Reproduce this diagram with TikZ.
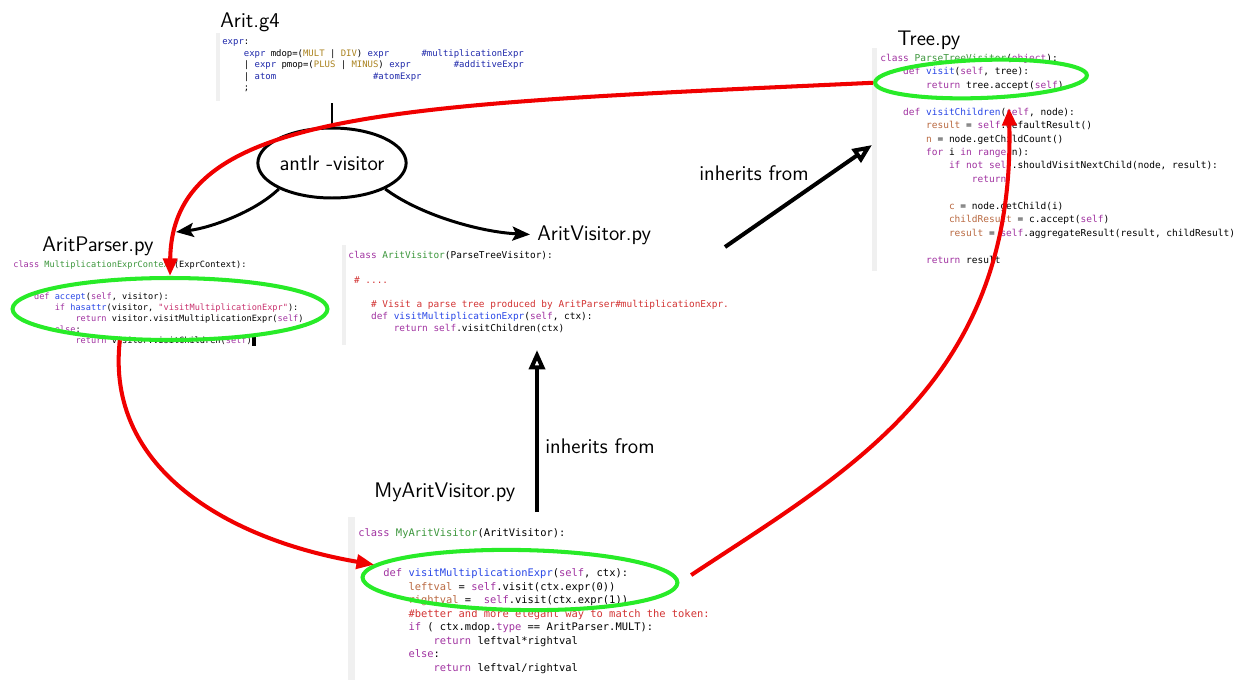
\documentclass[tikz,border=0pt]{standalone}
\usepackage{fontspec}
\setmonofont{DejaVu Sans Mono}
\usepackage{xcolor}
\usetikzlibrary{arrows.meta,shapes.geometric}

\definecolor{kwpurple}{RGB}{160,50,160}
\definecolor{clsgreen}{RGB}{60,150,60}
\definecolor{fnblue}{RGB}{40,70,230}
\definecolor{cmtred}{RGB}{210,50,50}
\definecolor{varbrown}{RGB}{185,105,65}
\definecolor{gnavy}{RGB}{30,40,170}
\definecolor{gtoken}{RGB}{170,130,30}
\definecolor{strpink}{RGB}{200,50,110}
\definecolor{hlgreen}{RGB}{40,235,40}
\definecolor{flowred}{RGB}{240,0,0}
\definecolor{stripgray}{RGB}{240,240,240}

% syntax colours of the code snippets
\newcommand{\ckw}[1]{\textcolor{kwpurple}{#1}}
\newcommand{\ccls}[1]{\textcolor{clsgreen}{#1}}
\newcommand{\cfn}[1]{\textcolor{fnblue}{#1}}
\newcommand{\ccmt}[1]{\textcolor{cmtred}{#1}}
\newcommand{\cvar}[1]{\textcolor{varbrown}{#1}}
\newcommand{\cgram}[1]{\textcolor{gnavy}{#1}}
\newcommand{\ctok}[1]{\textcolor{gtoken}{#1}}
\newcommand{\cstr}[1]{\textcolor{strpink}{#1}}
\newcommand{\cind}[1]{\hspace*{\dimexpr 0.602em*#1\relax}}

\begin{document}
\begin{tikzpicture}[x=0.02cm, y=-0.02cm,
    title/.style={anchor=base west, inner sep=0pt, font=\sffamily\fontsize{12}{14}\selectfont},
    code/.style={anchor=base west, align=left, inner sep=0pt}, % base = last line
    strip/.style={fill=stripgray},
    tool/.style={ellipse, draw, line width=1.7pt, minimum width=2.8cm, minimum height=1.4cm,
        inner sep=0pt, font=\sffamily\fontsize{12}{14}\selectfont},
    gen/.style={line width=1.7pt, -{Stealth[length=10pt,width=8pt,inset=2pt]}},
    inherit/.style={line width=2.3pt, -{Triangle[open,length=11pt,width=9pt]}},
    hl/.style={ellipse, draw=hlgreen, line width=2.3pt, inner sep=0pt},
    call/.style={color=flowred, line width=2.3pt, -{Triangle[length=10pt,width=8pt]}}]

    \useasboundingbox (0,0) rectangle (1245,680);

    % grey margins of the code snippets
    \fill[strip] (216,33) rectangle (220,101);   % Arit.g4
    \fill[strip] (872,48) rectangle (877,271);   % Tree.py
    \fill[strip] (342,245) rectangle (346,345);  % AritVisitor.py
    \fill[strip] (348,517) rectangle (355,680);  % MyAritVisitor.py

    % file names
    \node[title] (gtitle) at (220,27) {Arit.g4};
    \node[title] (ttitle) at (897,45) {Tree.py};
    \node[title] (ptitle) at (42,251) {AritParser.py};
    \node[title] (vtitle) at (537,240) {AritVisitor.py};
    \node[title] (mtitle) at (374,497) {MyAritVisitor.py};

    % Arit.g4
    \node[code, font=\ttfamily\fontsize{5.09}{6.58}\selectfont] (gcode) at (222,90.9) {%
        \cgram{expr}:\\
        \cind{4}\cgram{expr} mdop=(\ctok{MULT} | \ctok{DIV}) \cgram{expr}\cind{6}\cgram{\#multiplicationExpr}\\
        \cind{4}| \cgram{expr} pmop=(\ctok{PLUS} | \ctok{MINUS}) \cgram{expr}\cind{8}\cgram{\#additiveExpr}\\
        \cind{4}| \cgram{atom}\cind{18}\cgram{\#atomExpr}\\
        \cind{4};};

    % Tree.py
    \node[code, font=\ttfamily\fontsize{5.41}{7.65}\selectfont] (tcode) at (880,263) {%
        \ckw{class} \ccls{ParseTreeVisitor}(\ckw{object}):\\
        \cind{4}\ckw{def} \cfn{visit}(\ckw{self}, tree):\\
        \cind{8}\ckw{return} tree.accept(\ckw{self})\\
        ~\\
        \cind{4}\ckw{def} \cfn{visitChildren}(\ckw{self}, node):\\
        \cind{8}\cvar{result} = \ckw{self}.defaultResult()\\
        \cind{8}\cvar{n} = node.getChildCount()\\
        \cind{8}\ckw{for} i \ckw{in} \ckw{range}(n):\\
        \cind{12}\ckw{if} \ckw{not} \ckw{self}.shouldVisitNextChild(node, result):\\
        \cind{16}\ckw{return}\\
        ~\\
        \cind{12}\cvar{c} = node.getChild(i)\\
        \cind{12}\cvar{childResult} = c.accept(\ckw{self})\\
        \cind{12}\cvar{result} = \ckw{self}.aggregateResult(result, childResult)\\
        ~\\
        \cind{8}\ckw{return} result};

    % AritParser.py
    \node[code, font=\ttfamily\fontsize{4.9}{6.12}\selectfont] (pcode) at (13,343) {%
        \ckw{class} \ccls{MultiplicationExprContext}(ExprContext):\\
        ~\\
        ~\\
        \cind{4}\ckw{def} \cfn{accept}(\ckw{self}, visitor):\\
        \cind{8}\ckw{if} \cfn{hasattr}(visitor, \cstr{"visitMultiplicationExpr"}):\\
        \cind{12}\ckw{return} visitor.visitMultiplicationExpr(\ckw{self})\\
        \cind{8}\ckw{else}:\\
        \cind{12}\ckw{return} visitor.visitChildren(\ckw{self})\rule[-1.7pt]{2.2pt}{6.2pt}};

    % AritVisitor.py
    \node[code, font=\ttfamily\fontsize{5.37}{6.92}\selectfont] (vcode) at (348,331.7) {%
        \ckw{class} \ccls{AritVisitor}(ParseTreeVisitor):\\
        ~\\
        \cind{1}\ccmt{\# ....}\\
        ~\\
        \cind{4}\ccmt{\# Visit a parse tree produced by AritParser\#multiplicationExpr.}\\
        \cind{4}\ckw{def} \cfn{visitMultiplicationExpr}(\ckw{self}, ctx):\\
        \cind{8}\ckw{return} \ckw{self}.visitChildren(ctx)};

    % MyAritVisitor.py
    \node[code, font=\ttfamily\fontsize{5.93}{7.7}\selectfont] (mcode) at (358,671.5) {%
        \ckw{class} \ccls{MyAritVisitor}(AritVisitor):\\
        ~\\
        ~\\
        \cind{4}\ckw{def} \cfn{visitMultiplicationExpr}(\ckw{self}, ctx):\\
        \cind{8}\cvar{leftval} = \ckw{self}.visit(ctx.expr(0))\\
        \cind{8}\cvar{rightval} =\cind{2}\ckw{self}.visit(ctx.expr(1))\\
        \cind{8}\ccmt{\#better and more elegant way to match the token:}\\
        \cind{8}\ckw{if} ( ctx.mdop.\ckw{type} == AritParser.MULT):\\
        \cind{12}\ckw{return} leftval*rightval\\
        \cind{8}\ckw{else}:\\
        \cind{12}\ckw{return} leftval/rightval};

    % antlr generates parser and visitor
    \node[tool] (antlr) at (332,163) {antlr -visitor};
    \coordinate (gfoot) at (332,103);
    \coordinate (ptip) at (176,232);
    \draw[line width=1.7pt] (gfoot) -- (antlr.north);
    \draw[gen] (antlr.206) .. controls (255,212) and (210,228) .. (ptip);
    \draw[gen, shorten >=0.14cm] (antlr.334) .. controls (420,215) and (480,232) .. (vtitle.west);

    % inheritance
    \coordinate (upfoot) at (725,247);
    \coordinate (uphead) at (872,145);
    \coordinate (lowfoot) at (537,512);
    \coordinate (lowhead) at (537,350);
    \draw[inherit] (upfoot) -- (uphead);
    \draw[inherit] (lowfoot) -- (lowhead);
    \node[title] (inhup) at (699,180) {inherits from};
    \node[title] (inhlow) at (545,453) {inherits from};

    % highlighted methods
    \node[hl, minimum width=4.24cm, minimum height=0.76cm, rotate=2] (treehl) at (981,79) {};
    \node[hl, minimum width=6.3cm, minimum height=1.24cm] (parserhl) at (170,309) {};
    \node[hl, minimum width=6.3cm, minimum height=1.2cm, rotate=-1] (myhl) at (520,580) {};

    % call flow
    \coordinate (childtip) at (1009,108);
    \draw[call] (treehl.west) .. controls (390,105) and (172,110) .. (parserhl.north);
    \draw[call] (parserhl.212) .. controls (105,470) and (230,540) .. (myhl.175);
    \draw[call, shorten <=0.28cm] (myhl.east) .. controls (850,470) and (1015,380) .. (childtip);
\end{tikzpicture}
\end{document}
